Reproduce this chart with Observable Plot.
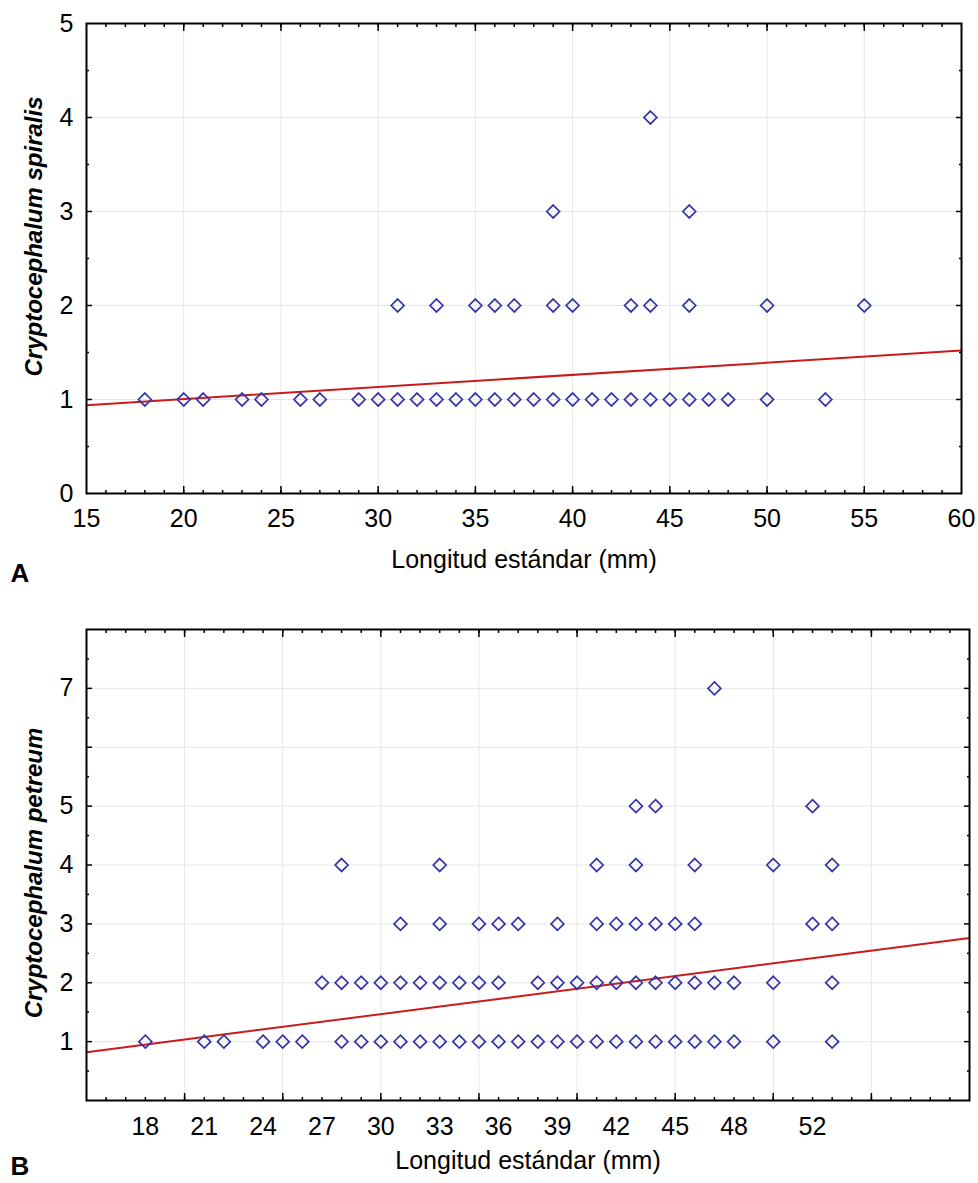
<!DOCTYPE html>
<html>
<head>
<meta charset="utf-8">
<script src="https://cdn.jsdelivr.net/npm/d3@7"></script>
<script src="https://cdn.jsdelivr.net/npm/@observablehq/plot@0.6"></script>
<style>
  body { margin: 0; background: #fff; }
  #chart svg { display: block; }
</style>
</head>
<body>
<div id="chart"></div>
<script>
// ---------- Data: panel A (Cryptocephalum spiralis) ----------
// standard lengths (mm) of individuals with the given count
const spiralis1 = [18,20,21,23,24,26,27,29,30,31,32,33,34,35,36,37,38,39,40,41,42,43,44,45,46,47,48,50,53];
const spiralis2 = [31,33,35,36,37,39,40,43,44,46,50,55];
const spiralis3 = [39,46];
const spiralis4 = [44];
const fitA_x = [15, 60];
const fitA_y = [0.94, 1.52];
const xTickLabelsA = [15,20,25,30,35,40,45,50,55,60];
const yTickLabelsA = [0,1,2,3,4,5];

// ---------- Data: panel B (Cryptocephalum petreum) ----------
const petreum1 = [18,21,22,24,25,26,28,29,30,31,32,33,34,35,36,37,38,39,40,41,42,43,44,45,46,47,48,50,53];
const petreum2 = [27,28,29,30,31,32,33,34,35,36,38,39,40,41,42,43,44,45,46,47,48,50,53];
const petreum3 = [31,33,35,36,37,39,41,42,43,44,45,46,52,53];
const petreum4 = [28,33,41,43,46,50,53];
const petreum5 = [43,44,52];
const petreum7 = [47];
const fitB_x = [15, 60];
const fitB_y = [0.82, 2.76];
const xTickLabelsB = [18,21,24,27,30,33,36,39,42,45,48,52];
const yTickLabelsB = [1,2,3,4,5,7];

// shared axis structure
const xMajor = [20,25,30,35,40,45,50,55];
const xMinor = d3.range(16, 60);

function toPoints(rows) {
  return rows.flatMap(([count, xs]) => xs.map(len => ({len, count})));
}
function toLine(xs, ys) { return xs.map((x, i) => ({x, y: ys[i]})); }

const FONT = "'Liberation Sans', Arial, Helvetica, sans-serif";
const DOT = "#3434a8";
const RED = "#c81c1c";
const GRID = "#e6e6e6";

function panel(o) {
  const yMinorTicks = o.yMinor;
  return Plot.plot({
    width: 978,
    height: o.height,
    marginTop: o.mt, marginBottom: o.mb, marginLeft: 86, marginRight: o.mr,
    x: {domain: [15, 60]},
    y: {domain: o.yDomain},
    style: {fontFamily: FONT, fontSize: "25px", color: "#000", background: "#fff", overflow: "visible"},
    marks: [
      Plot.gridX(xMajor, {stroke: GRID, strokeOpacity: 1, strokeWidth: 1}),
      Plot.gridY(o.yGrid, {stroke: GRID, strokeOpacity: 1, strokeWidth: 1}),
      // inward ticks, all four sides
      Plot.axisX(xMinor, {anchor: "bottom", tickSize: -3, text: null, label: null, strokeWidth: 1.5}),
      Plot.axisX(xMajor, {anchor: "bottom", tickSize: -7, text: null, label: null, strokeWidth: 1.5}),
      Plot.axisX(xMinor, {anchor: "top", tickSize: -3, text: null, label: null, strokeWidth: 1.5}),
      Plot.axisX(xMajor, {anchor: "top", tickSize: -7, text: null, label: null, strokeWidth: 1.5}),
      Plot.axisY(yMinorTicks, {anchor: "left", tickSize: -3, text: null, label: null, strokeWidth: 1.5}),
      Plot.axisY(o.yGrid, {anchor: "left", tickSize: -6, text: null, label: null, strokeWidth: 1.5}),
      Plot.axisY(yMinorTicks, {anchor: "right", tickSize: -3, text: null, label: null, strokeWidth: 1.5}),
      Plot.axisY(o.yGrid, {anchor: "right", tickSize: -6, text: null, label: null, strokeWidth: 1.5}),
      // tick labels
      Plot.axisX(o.xLabels, {anchor: "bottom", tickSize: 0, tickPadding: o.xPad, label: null, tickFormat: d => String(d)}),
      Plot.axisY(o.yLabels, {anchor: "left", tickSize: 0, tickPadding: 13, label: null, tickFormat: d => String(d)}),
      // regression line
      Plot.line(o.fit, {x: "x", y: "y", stroke: RED, strokeWidth: 2}),
      // observations
      Plot.dot(o.points, {x: "len", y: "count", symbol: "diamond2", r: 5.8, stroke: DOT, strokeWidth: 1.7}),
      Plot.frame({stroke: "#000", strokeWidth: 2}),
      // axis titles and panel tag
      Plot.text(["Longitud estándar (mm)"], {frameAnchor: "bottom", dy: o.titleDy, fontSize: 25}),
      Plot.text([o.yTitle], {frameAnchor: "left", textAnchor: "middle", rotate: -90, dx: -52, dy: o.yTitleDy, fontSize: 24, fontWeight: "bold", fontStyle: "italic"}),
      Plot.text([o.tag], {frameAnchor: "bottom-left", textAnchor: "start", dx: -76, dy: o.tagDy, fontSize: 26, fontWeight: "bold"})
    ]
  });
}

const chartA = panel({
  height: 600, mt: 23, mb: 107, mr: 17,
  yDomain: [0, 5],
  yGrid: [1,2,3,4],
  yMinor: [0.5,1.5,2.5,3.5,4.5],
  xLabels: xTickLabelsA, yLabels: yTickLabelsA, xPad: 16,
  points: toPoints([[1, spiralis1],[2, spiralis2],[3, spiralis3],[4, spiralis4]]),
  fit: toLine(fitA_x, fitA_y),
  yTitle: "Cryptocephalum spiralis", yTitleDy: -22,
  titleDy: 74, tagDy: 88, tag: "A"
});

const chartB = panel({
  height: 583, mt: 29, mb: 83, mr: 9,
  yDomain: [0, 8],
  yGrid: [1,2,3,4,5,6,7],
  yMinor: [0.5,1.5,2.5,3.5,4.5,5.5,6.5,7.5],
  xLabels: xTickLabelsB, yLabels: yTickLabelsB, xPad: 17,
  points: toPoints([[1, petreum1],[2, petreum2],[3, petreum3],[4, petreum4],[5, petreum5],[7, petreum7]]),
  fit: toLine(fitB_x, fitB_y),
  yTitle: "Cryptocephalum petreum", yTitleDy: 8,
  titleDy: 68, tagDy: 74, tag: "B"
});

document.getElementById("chart").append(chartA, chartB);
</script>
</body>
</html>
